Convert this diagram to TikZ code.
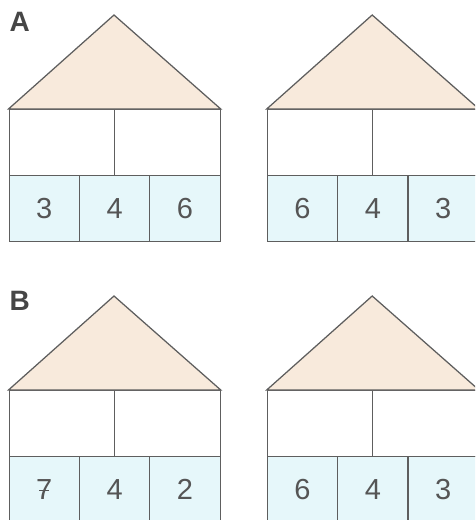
\documentclass[tikz,border=0pt]{standalone}
\usepackage{fontspec}
\setmainfont{Liberation Sans}
\definecolor{linec}{HTML}{5E5E5E}
\definecolor{roofc}{HTML}{F8EADC}
\definecolor{cellc}{HTML}{E6F7FA}
\definecolor{digitc}{HTML}{555555}
\definecolor{labc}{HTML}{464646}
\tikzset{
  roof/.style={draw=linec, line width=1.25pt, fill=roofc, line join=miter},
  topcell/.style={draw=linec, line width=1.25pt, fill=white, minimum width=105.5pt, minimum height=66pt, inner sep=0pt, anchor=north west},
  numcell/.style={draw=linec, line width=1.25pt, fill=cellc, minimum width=70.33pt, minimum height=66pt, inner sep=0pt, anchor=north west, text=digitc, font=\fontsize{29}{29}\selectfont},
  lab/.style={font=\bfseries\fontsize{28}{28}\selectfont, text=labc, inner sep=0pt, anchor=north west}
}
% #1 name, #2 left x, #3 apex y, #4 #5 #6 digits
\newcommand\househere[6]{%
  \coordinate (#1-apex) at ({#2+105.5},#3);
  \node[topcell] (#1-t1) at (#2,{#3+94}) {};
  \node[topcell] (#1-t2) at ({#2+105.5},{#3+94}) {};
  \draw[roof] (#1-t1.north west) -- (#1-apex) -- (#1-t2.north east) -- cycle;
  \node[numcell] (#1-n1) at (#2,{#3+160}) {#4};
  \node[numcell] (#1-n2) at ({#2+70.33},{#3+160}) {#5};
  \node[numcell] (#1-n3) at ({#2+140.67},{#3+160}) {#6};
}
\begin{document}
\begin{tikzpicture}[x=1pt,y=-1pt]
\useasboundingbox (0,0) rectangle (475,520);
\fill[white] (0,0) rectangle (475,520);
\clip (0,0) rectangle (475,520);
\node[lab] (labA) at (9.5,12) {A};
\node[lab] (labB) at (9.5,291) {B};
\househere{HA}{8.5}{15}{3}{4}{6}
\househere{HAr}{266.7}{15}{6}{4}{3}
\househere{HB}{8.5}{296}{7}{4}{2}
\househere{HBr}{266.7}{296}{6}{4}{3}
\draw[digitc, line width=1.7pt] ([xshift=-5pt,yshift=-1pt]HB-n1.center) -- ([xshift=4.5pt,yshift=-1pt]HB-n1.center);
\end{tikzpicture}
\end{document}
